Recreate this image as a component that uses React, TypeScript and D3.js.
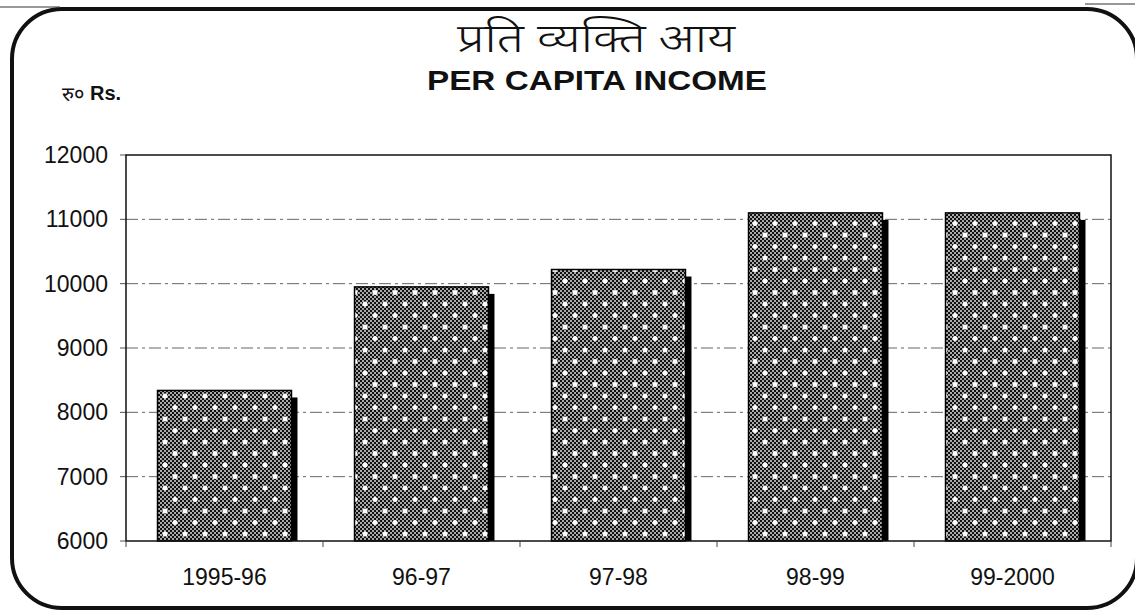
import React from 'react';
import * as d3 from 'd3';

// per capita income, Rs.
const years = ['1995-96', '96-97', '97-98', '98-99', '99-2000'];
const income = [8340, 9950, 10220, 11100, 11100];
const yTicks = [6000, 7000, 8000, 9000, 10000, 11000, 12000];

const W = 1135;
const H = 613;
const left = 126;
const right = 1111;
const top = 155;
const bottom = 541;

export default function App() {
  const x = d3.scaleBand<string>()
    .domain(years)
    .range([left, right])
    .paddingInner(0.32)
    .paddingOuter(0.16);

  const y = d3.scaleLinear()
    .domain([6000, 12000])
    .range([bottom, top]);

  const step = x.step();
  const bw = x.bandwidth();
  const sx = 6; // shadow offset
  const sy = 7;

  const font = '"Liberation Sans", Arial, sans-serif';
  const hindi = '"Noto Sans Devanagari", "Lohit Devanagari", "FreeSans", "Noto Sans", sans-serif';

  return (
    <svg width={W} height={H} style={{ position: 'absolute', left: 0, top: 0, background: '#fff' }}>
      <defs>
        <pattern id="checker" width="4" height="4" patternUnits="userSpaceOnUse">
          <rect width="4" height="4" fill="#aaa" />
          <rect x="0" y="0" width="2" height="2" fill="#111" />
          <rect x="2" y="2" width="2" height="2" fill="#111" />
        </pattern>
        <pattern id="dots" width="20" height="23" patternUnits="userSpaceOnUse">
          <circle cx="5" cy="5" r="2.5" fill="#fff" />
          <circle cx="15" cy="16.5" r="2.5" fill="#fff" />
        </pattern>
      </defs>

      {/* outer frame */}
      <rect x={12} y={9} width={1125} height={599} rx={50} ry={50}
        fill="none" stroke="#111" strokeWidth={4} />
      <line x1={0} x2={60} y1={7} y2={7} stroke="#333" strokeWidth={1.2} />
      <line x1={1085} x2={1135} y1={4} y2={4} stroke="#333" strokeWidth={1.2} />

      {/* titles */}
      <text x={596} y={52} textAnchor="middle" fontSize={40} fontWeight={300} fontFamily={hindi}
        fill="#111" textLength={278} lengthAdjust="spacingAndGlyphs">प्रति व्यक्ति आय</text>
      <text x={597} y={90} textAnchor="middle" fontSize={28} fontWeight="bold"
        fontFamily={font} fill="#111" textLength={340} lengthAdjust="spacingAndGlyphs">PER CAPITA INCOME</text>
      <text x={62} y={101} fontSize={20} fontFamily={hindi} fill="#111">रु०</text>
      <text x={90} y={100} fontSize={20} fontWeight="bold" fontFamily={font} fill="#111">Rs.</text>

      {/* gridlines and y ticks */}
      {yTicks.map(t => (
        <g key={t}>
          {t > 6000 && t < 12000 && (
            <line x1={left} x2={right} y1={y(t)} y2={y(t)}
              stroke="#666" strokeWidth={1} strokeDasharray="12,4,3,4" />
          )}
          <line x1={left - 6} x2={left} y1={y(t)} y2={y(t)} stroke="#555" strokeWidth={1} />
          <text x={108} y={y(t) + 8} textAnchor="end" fontSize={23}
            fontFamily={font} fill="#111">{t}</text>
        </g>
      ))}

      {/* bars with drop shadow */}
      {years.map((yr, i) => {
        const bx = x(yr) as number;
        const by = y(income[i]);
        return (
          <g key={yr}>
            <rect x={bx + sx} y={by + sy} width={bw} height={bottom - by - sy} fill="#000" />
            <rect x={bx} y={by} width={bw} height={bottom - by} fill="url(#checker)" />
            <rect x={bx} y={by} width={bw} height={bottom - by} fill="url(#dots)"
              stroke="#000" strokeWidth={1.5} />
          </g>
        );
      })}

      {/* plot border */}
      <rect x={left} y={top} width={right - left} height={bottom - top}
        fill="none" stroke="#111" strokeWidth={1.5} />

      {/* x ticks and labels */}
      {d3.range(years.length + 1).map(i => (
        <line key={i} x1={left + i * step} x2={left + i * step} y1={bottom} y2={bottom + 6}
          stroke="#444" strokeWidth={1} />
      ))}
      {years.map(yr => (
        <text key={yr} x={(x(yr) as number) + bw / 2} y={585} textAnchor="middle"
          fontSize={23} fontFamily={font} fill="#111">{yr}</text>
      ))}
    </svg>
  );
}
